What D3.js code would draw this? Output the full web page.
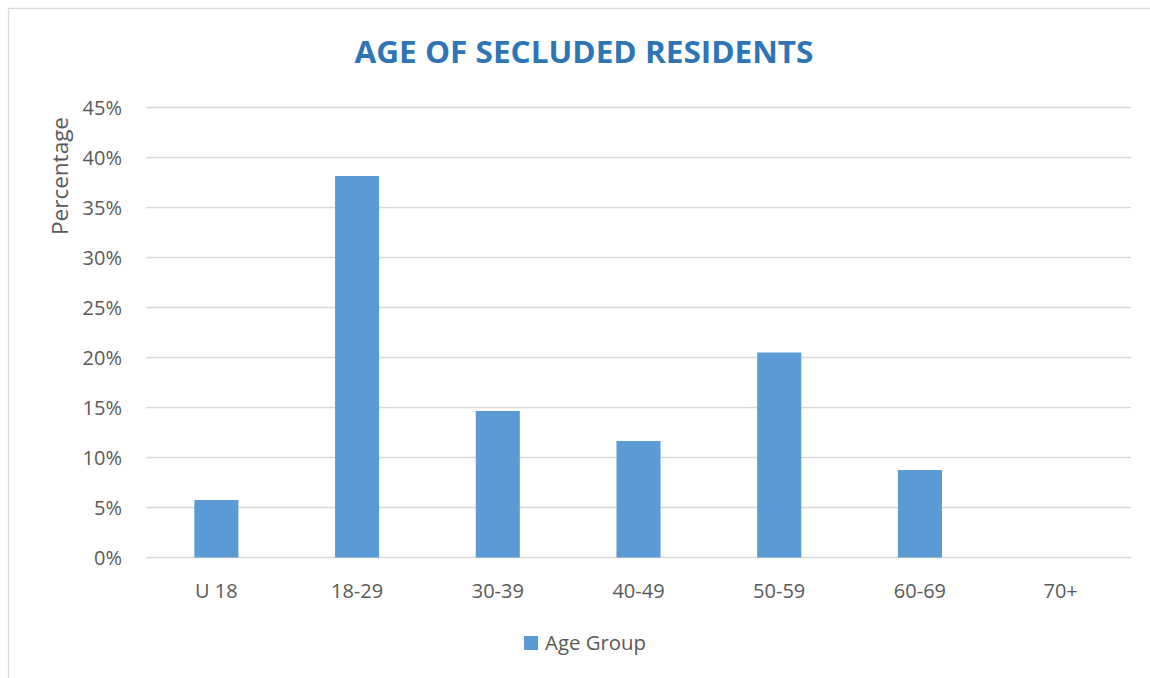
<!DOCTYPE html>
<html>
<head>
<meta charset="utf-8">
<script src="https://cdn.jsdelivr.net/npm/d3@7"></script>
<style>
html,body{margin:0;padding:0;background:#fff;}
svg{display:block;}
</style>
</head>
<body>
<svg id="chart" width="1150" height="678"></svg>
<script>
const categories = ["U 18", "18-29", "30-39", "40-49", "50-59", "60-69", "70+"];
const values = [5.75, 38.15, 14.65, 11.65, 20.5, 8.75, 0];
const yTicks = [0, 5, 10, 15, 20, 25, 30, 35, 40, 45];
const seriesName = "Age Group";
const titleText = "AGE OF SECLUDED RESIDENTS";
const yAxisTitle = "Percentage";

const svg = d3.select("#chart");
const font = "'Open Sans', 'Liberation Sans', sans-serif";
const textColor = "#595959";
const barColor = "#5B9BD5";
const gridColor = "#D9D9D9";

// chart border
svg.append("rect").attr("x", 8.5).attr("y", 8.5).attr("width", 1160).attr("height", 700)
  .attr("fill", "none").attr("stroke", gridColor).attr("stroke-width", 1.3);

const plot = {left: 146, right: 1131, top: 107.5, bottom: 557.5};

const x = d3.scaleBand().domain(categories).range([plot.left, plot.right]).paddingInner(0.687).paddingOuter(0.3435);
const y = d3.scaleLinear().domain([0, 45]).range([plot.bottom, plot.top]);

// gridlines
svg.append("g").selectAll("line").data(yTicks).join("line")
  .attr("x1", plot.left).attr("x2", plot.right)
  .attr("y1", d => y(d)).attr("y2", d => y(d))
  .attr("stroke", gridColor).attr("stroke-width", 1.3);

// y axis labels
const yAxis = d3.axisLeft(y).tickValues(yTicks).tickFormat(d => d + "%").tickSize(0).tickPadding(0);
const yg = svg.append("g").attr("transform", `translate(${plot.left - 24},0)`).call(yAxis);
yg.select(".domain").remove();
yg.selectAll("text").attr("font-family", font).attr("font-size", 20).attr("fill", textColor).attr("dy", "0.35em");

// bars
svg.append("g").selectAll("rect").data(values).join("rect")
  .attr("x", (d, i) => x(categories[i]))
  .attr("width", x.bandwidth())
  .attr("y", d => y(d))
  .attr("height", d => y(0) - y(d))
  .attr("fill", barColor);

// x axis labels
const xAxis = d3.axisBottom(x).tickSize(0).tickPadding(0);
const xg = svg.append("g").attr("transform", `translate(0,${plot.bottom + 40})`).call(xAxis);
xg.select(".domain").remove();
xg.selectAll("text").attr("font-family", font).attr("font-size", 20).attr("fill", textColor).attr("dy", "0");

// title
svg.append("text").attr("x", 584).attr("y", 63).attr("text-anchor", "middle")
  .attr("font-family", font).attr("font-weight", "bold").attr("font-size", 30)
  .attr("fill", "#2E75B6").attr("textLength", 459).attr("lengthAdjust", "spacingAndGlyphs")
  .text(titleText);

// y axis title
svg.append("text").attr("transform", "translate(68,176) rotate(-90)").attr("text-anchor", "middle")
  .attr("font-family", font).attr("font-size", 22).attr("fill", textColor)
  .attr("textLength", 118).attr("lengthAdjust", "spacingAndGlyphs")
  .text(yAxisTitle);

// legend
const lg = svg.append("g");
lg.append("rect").attr("x", 524).attr("y", 636).attr("width", 14).attr("height", 14).attr("fill", barColor);
lg.append("text").attr("x", 545).attr("y", 650).attr("font-family", font).attr("font-size", 20)
  .attr("fill", textColor).attr("textLength", 101).attr("lengthAdjust", "spacingAndGlyphs").text(seriesName);
</script>
</body>
</html>
